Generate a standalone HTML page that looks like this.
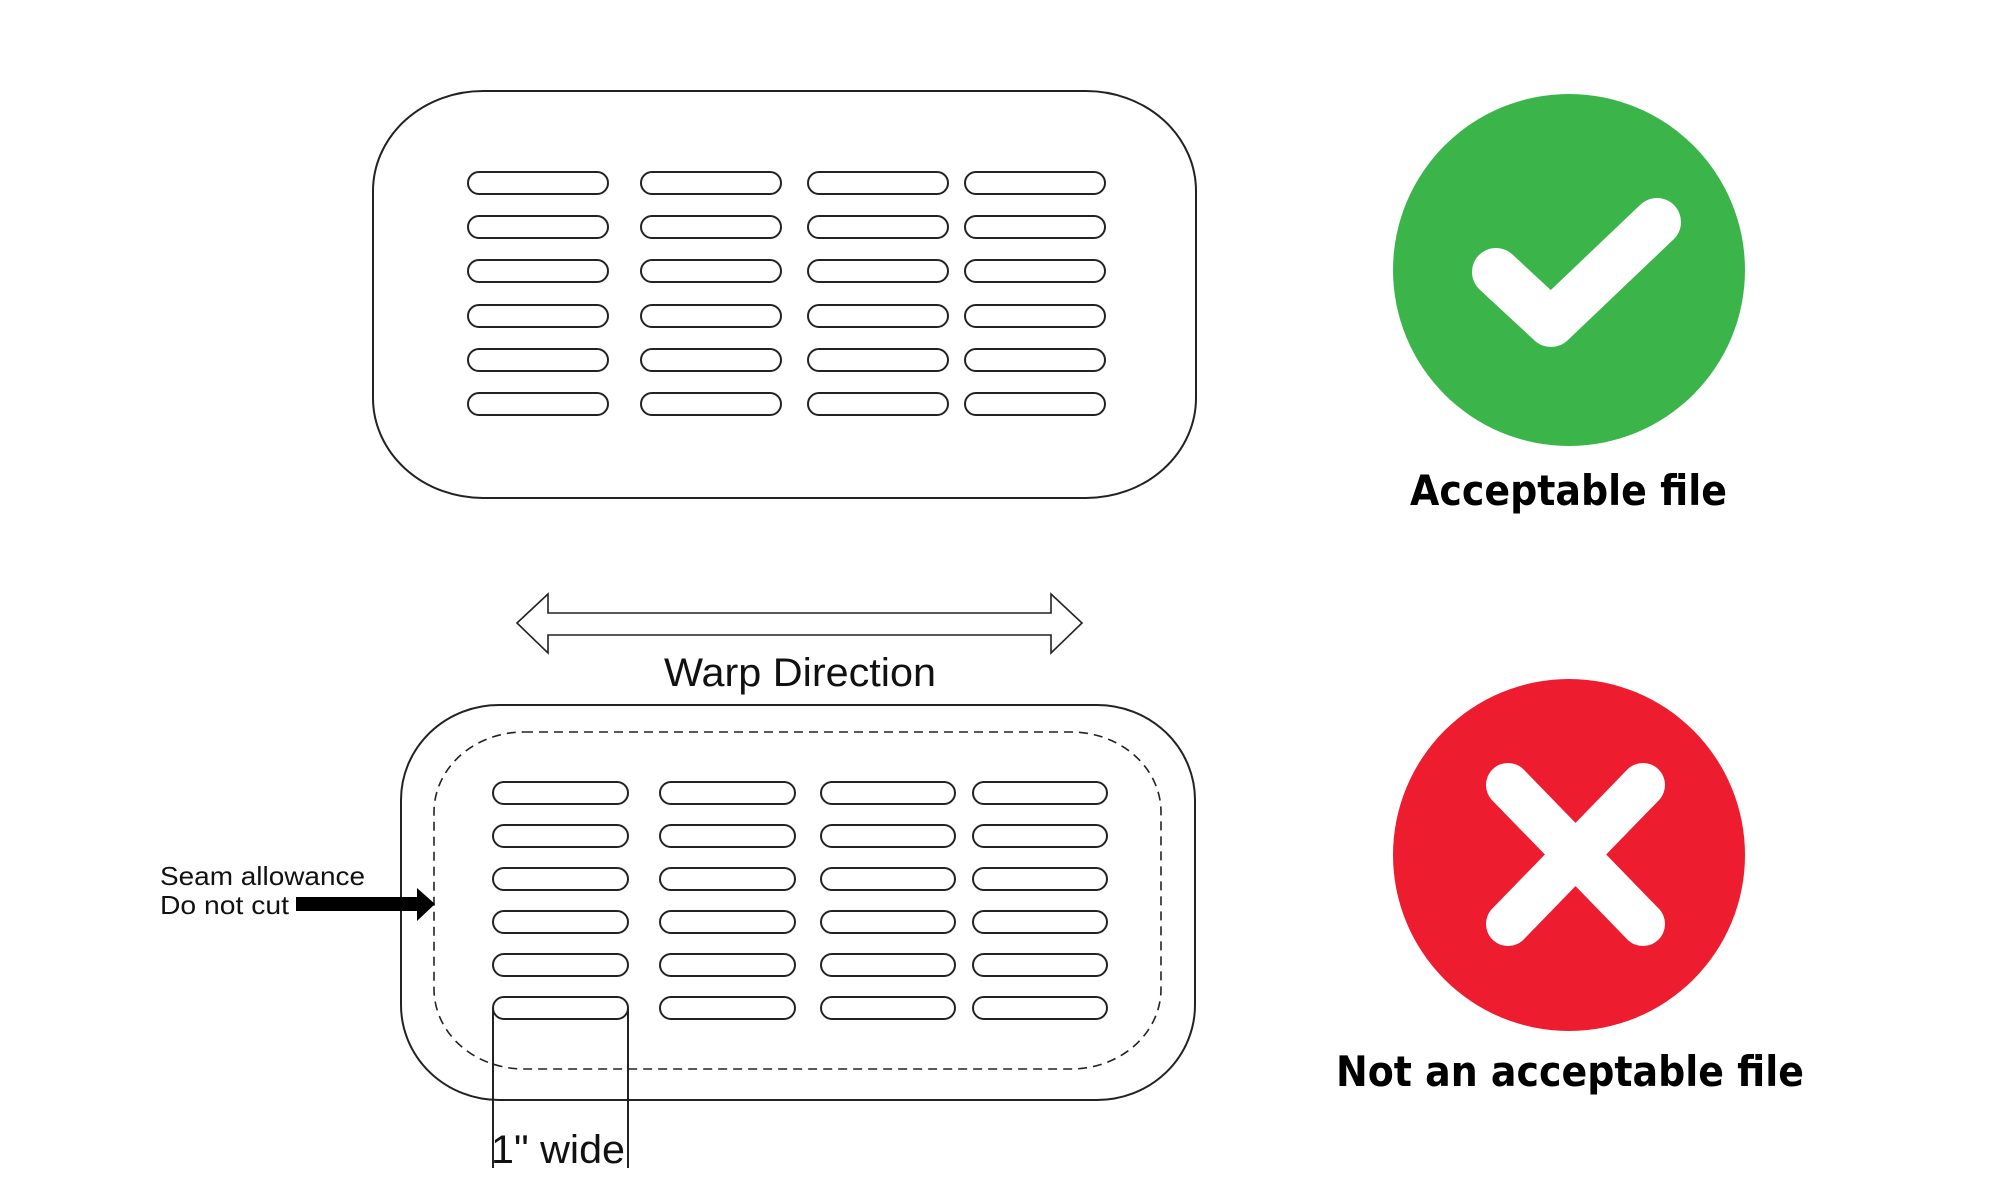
<!DOCTYPE html>
<html><head><meta charset="utf-8"><style>
html,body{margin:0;padding:0;background:#fff;}
svg{display:block;}
</style></head><body>
<svg width="2000" height="1200" viewBox="0 0 2000 1200" xmlns="http://www.w3.org/2000/svg">
<rect width="2000" height="1200" fill="#fff"/>
<g fill="none" stroke="#222" stroke-width="2">
<rect x="373" y="91" width="823" height="407" rx="110" ry="100"/>
<rect x="468" y="172" width="140" height="22" rx="11"/><rect x="641" y="172" width="140" height="22" rx="11"/><rect x="808" y="172" width="140" height="22" rx="11"/><rect x="965" y="172" width="140" height="22" rx="11"/>
<rect x="468" y="216" width="140" height="22" rx="11"/><rect x="641" y="216" width="140" height="22" rx="11"/><rect x="808" y="216" width="140" height="22" rx="11"/><rect x="965" y="216" width="140" height="22" rx="11"/>
<rect x="468" y="260" width="140" height="22" rx="11"/><rect x="641" y="260" width="140" height="22" rx="11"/><rect x="808" y="260" width="140" height="22" rx="11"/><rect x="965" y="260" width="140" height="22" rx="11"/>
<rect x="468" y="305" width="140" height="22" rx="11"/><rect x="641" y="305" width="140" height="22" rx="11"/><rect x="808" y="305" width="140" height="22" rx="11"/><rect x="965" y="305" width="140" height="22" rx="11"/>
<rect x="468" y="349" width="140" height="22" rx="11"/><rect x="641" y="349" width="140" height="22" rx="11"/><rect x="808" y="349" width="140" height="22" rx="11"/><rect x="965" y="349" width="140" height="22" rx="11"/>
<rect x="468" y="393" width="140" height="22" rx="11"/><rect x="641" y="393" width="140" height="22" rx="11"/><rect x="808" y="393" width="140" height="22" rx="11"/><rect x="965" y="393" width="140" height="22" rx="11"/>
<rect x="401" y="705" width="794" height="395" rx="98" ry="95"/>
<rect x="434" y="732" width="727" height="337" rx="90" ry="80" stroke-dasharray="9,6" stroke-width="1.6"/>
<rect x="493" y="782" width="135" height="22" rx="11"/><rect x="660" y="782" width="135" height="22" rx="11"/><rect x="821" y="782" width="134" height="22" rx="11"/><rect x="973" y="782" width="134" height="22" rx="11"/>
<rect x="493" y="825" width="135" height="22" rx="11"/><rect x="660" y="825" width="135" height="22" rx="11"/><rect x="821" y="825" width="134" height="22" rx="11"/><rect x="973" y="825" width="134" height="22" rx="11"/>
<rect x="493" y="868" width="135" height="22" rx="11"/><rect x="660" y="868" width="135" height="22" rx="11"/><rect x="821" y="868" width="134" height="22" rx="11"/><rect x="973" y="868" width="134" height="22" rx="11"/>
<rect x="493" y="911" width="135" height="22" rx="11"/><rect x="660" y="911" width="135" height="22" rx="11"/><rect x="821" y="911" width="134" height="22" rx="11"/><rect x="973" y="911" width="134" height="22" rx="11"/>
<rect x="493" y="954" width="135" height="22" rx="11"/><rect x="660" y="954" width="135" height="22" rx="11"/><rect x="821" y="954" width="134" height="22" rx="11"/><rect x="973" y="954" width="134" height="22" rx="11"/>
<rect x="493" y="997" width="135" height="22" rx="11"/><rect x="660" y="997" width="135" height="22" rx="11"/><rect x="821" y="997" width="134" height="22" rx="11"/><rect x="973" y="997" width="134" height="22" rx="11"/>
<line x1="493" y1="1008" x2="493" y2="1168"/><line x1="628" y1="1008" x2="628" y2="1168"/>
<path d="M517,623 L548,594 L548,613 L1051,613 L1051,594 L1082,623 L1051,653 L1051,635 L548,635 L548,653 Z" stroke-width="1.6"/>
</g>
<text x="664" y="686" font-family="Liberation Sans, Arial, sans-serif" font-size="40" textLength="272" lengthAdjust="spacingAndGlyphs" fill="#111">Warp Direction</text>
<text x="491" y="1163" font-family="Liberation Sans, Arial, sans-serif" font-size="40" textLength="134" lengthAdjust="spacingAndGlyphs" fill="#111">1" wide</text>
<text x="160" y="885" font-family="Liberation Sans, Arial, sans-serif" font-size="26" textLength="205" lengthAdjust="spacingAndGlyphs" fill="#111">Seam allowance</text>
<text x="160" y="914" font-family="Liberation Sans, Arial, sans-serif" font-size="26" textLength="129" lengthAdjust="spacingAndGlyphs" fill="#111">Do not cut</text>
<path d="M296,897 L417,897 L417,888 L435,904 L417,921 L417,911 L296,911 Z" fill="#000"/>
<circle cx="1569" cy="270" r="176" fill="#3bb54a"/>
<polyline points="1496,272 1551,323 1657,222" fill="none" stroke="#fff" stroke-width="48" stroke-linecap="round" stroke-linejoin="round"/>
<text x="1410" y="505" font-family="DejaVu Sans, sans-serif" font-weight="bold" font-size="42" textLength="317" lengthAdjust="spacingAndGlyphs" fill="#000">Acceptable file</text>
<circle cx="1569" cy="855" r="176" fill="#ed1c2e"/>
<g stroke="#fff" stroke-width="44" stroke-linecap="round">
<line x1="1508" y1="785" x2="1643" y2="924"/><line x1="1643" y1="785" x2="1508" y2="924"/>
</g>
<text x="1336" y="1086" font-family="DejaVu Sans, sans-serif" font-weight="bold" font-size="42" textLength="468" lengthAdjust="spacingAndGlyphs" fill="#000">Not an acceptable file</text>
</svg>
</body></html>
